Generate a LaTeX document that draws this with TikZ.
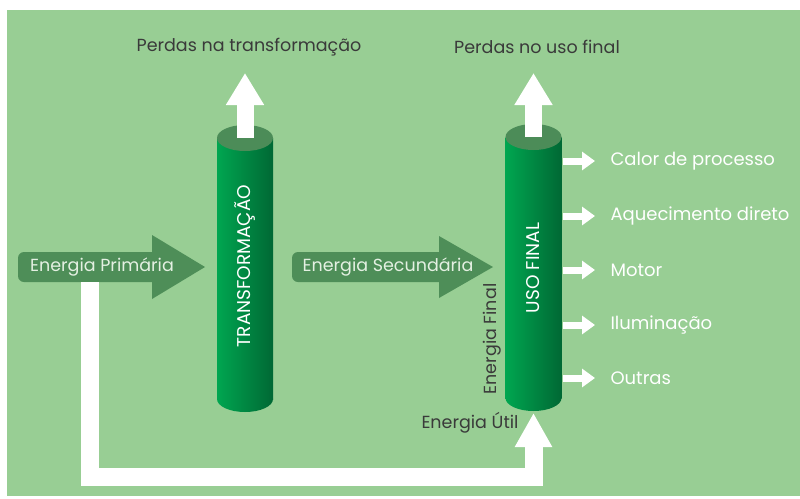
\documentclass[tikz,border=0pt]{standalone}
\usepackage{fontspec}
\setmainfont{Poppins}
\usetikzlibrary{arrows.meta,calc}
\tikzset{>=stealth}
\definecolor{bg}{RGB}{152,206,148}
\definecolor{boxgreen}{RGB}{78,142,88}
\definecolor{tubelight}{RGB}{0,166,80}
\definecolor{tubedark}{RGB}{0,104,52}
\definecolor{tubetop}{RGB}{76,140,88}
\definecolor{ink}{RGB}{58,58,58}
\definecolor{paletext}{RGB}{228,240,226}
\tikzset{
  loss/.style={white, line width=17pt, -{Triangle[length=32pt,width=36pt]}},
  useout/.style={white, line width=7pt, -{Triangle[length=13pt,width=18pt]}},
  uselabel/.style={anchor=west, text=white, font=\fontsize{18}{20}\selectfont},
  darklabel/.style={text=ink, font=\fontsize{17.5}{20}\selectfont},
  boxlabel/.style={text=paletext, font=\fontsize{17.5}{20}\selectfont},
  tubelabel/.style={rotate=90, text=white, font=\fontsize{18.5}{20}\selectfont}
}
\newcommand*{\tube}[1]
  {\shade[left color=tubelight,right color=tubedark] ($(#1)+(-28,0)$) rectangle ($(#1)+(28,261)$);
   \shade[left color=tubelight,right color=tubedark] ($(#1)+(0,261)$) ellipse (28 and 13);
   \fill[tubetop] (#1) ellipse (28 and 13)}

\begin{document}
\begin{tikzpicture}[x=1pt,y=-1pt]
\useasboundingbox (0,0) rectangle (800,498);
\fill[white] (0,0) rectangle (800,498);
\fill[bg] (7,10) rectangle (800,496);
\coordinate (T) at (245,138);
\coordinate (U) at (533.5,137);
\coordinate (Ub) at (533.5,413);
\tube{T};
\tube{U};
\node[tubelabel] (tr) at (245,266) {TRANSFORMAÇÃO};
\node[tubelabel] (uf) at (533.5,268) {USO FINAL};
% energia primaria / secundaria
\fill[boxgreen, rounded corners=6] (18,252) rectangle (158,282);
\fill[boxgreen] (152,235) -- (205,267) -- (152,299) -- cycle;
\node[boxlabel] (ep) at (102,267) {Energia Primária};
\fill[boxgreen, rounded corners=6] (292,252) rectangle (445,282);
\fill[boxgreen] (439,236) -- (493,267) -- (439,298) -- cycle;
\node[boxlabel] (es) at (388,267) {Energia Secundária};
% perdas
\node[darklabel] (pt) at (249,47) {Perdas na transformação};
\node[darklabel] (pu) at (537,47) {Perdas no uso final};
\draw[loss] (T) -- (T |- 0,73);
\draw[loss] (U) -- (U |- 0,73);
% usos finais
\foreach \y/\nm/\txt in {161/calor/Calor de processo, 216/aquec/Aquecimento direto,
    270/motor/Motor, 325/ilum/Iluminação, 378/outras/Outras}
  {\node[uselabel] (\nm) at (607,\y) {\txt};
   \draw[useout] (563,\y) -- (595,\y);}
\node[darklabel, rotate=90] (ef) at (492,339) {Energia Final};
\node[darklabel] (eu) at (470,423) {Energia Útil};
% energia util
\coordinate (E) at (89.5,282);
\draw[white, line width=18pt, -{Triangle[length=34pt,width=35pt]}]
  (E) -- (89.5,477) -- (Ub |- 0,477) -- (Ub);
\end{tikzpicture}
\end{document}
